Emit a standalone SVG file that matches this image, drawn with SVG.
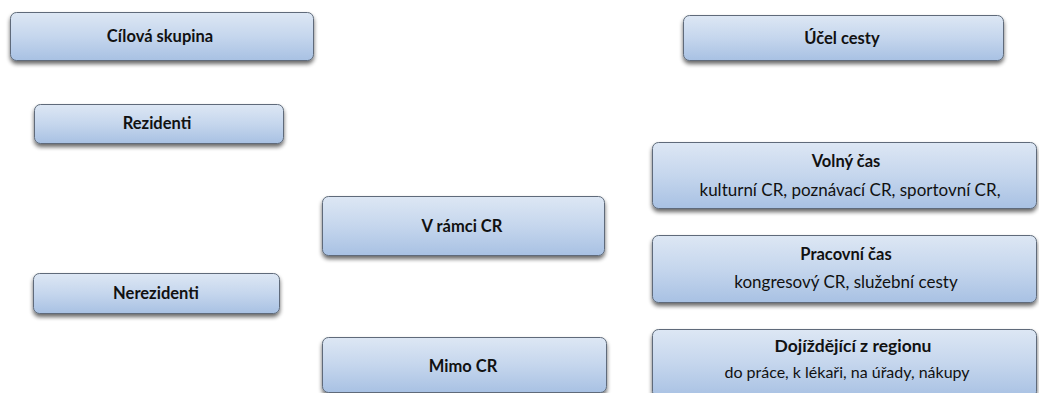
<svg xmlns="http://www.w3.org/2000/svg" width="1039" height="393" viewBox="0 0 1039 393">
<defs>
<linearGradient id="g" x1="0" y1="0" x2="0" y2="1">
<stop offset="0" stop-color="#dde7f4"/>
<stop offset="0.5" stop-color="#c5d6ed"/>
<stop offset="1" stop-color="#a8c1e3"/>
</linearGradient>
<filter id="sh" x="-5%" y="-20%" width="110%" height="160%">
<feGaussianBlur in="SourceAlpha" stdDeviation="2"/>
<feOffset dx="0" dy="3" result="b"/>
<feComponentTransfer><feFuncA type="linear" slope="0.6"/></feComponentTransfer>
<feMerge><feMergeNode/><feMergeNode in="SourceGraphic"/></feMerge>
</filter>
</defs>
<style>
.box{fill:url(#g);stroke:#5f6b7a;stroke-width:1;filter:url(#sh)}
.t{font-family:Lato,"Open Sans","Liberation Sans",sans-serif;font-weight:bold;font-size:16.5px;fill:#111111;text-anchor:middle}
.s{font-family:Lato,"Open Sans","Liberation Sans",sans-serif;font-size:17px;fill:#111111;text-anchor:middle}
</style>
<rect width="1039" height="393" fill="#ffffff"/>
<g id="cilova-skupina"><rect class="box" x="10.5" y="12.5" width="303" height="48" rx="6"/><text class="t" x="160" y="42">Cílová skupina</text></g>
<g id="ucel-cesty"><rect class="box" x="683.5" y="15.5" width="320" height="45" rx="6"/><text class="t" x="842" y="44">Účel cesty</text></g>
<g id="rezidenti"><rect class="box" x="34.5" y="104.5" width="249" height="39" rx="6"/><text class="t" x="157" y="129">Rezidenti</text></g>
<g id="nerezidenti"><rect class="box" x="33.5" y="273.5" width="246" height="40" rx="6"/><text class="t" x="156" y="299">Nerezidenti</text></g>
<g id="v-ramci-cr"><rect class="box" x="322.5" y="196.5" width="282" height="59" rx="6"/><text class="t" x="462" y="232">V rámci CR</text></g>
<g id="mimo-cr"><rect class="box" x="322.5" y="337.5" width="284" height="55" rx="6"/><text class="t" x="463" y="372">Mimo CR</text></g>
<g id="volny-cas"><rect class="box" x="652.5" y="142.5" width="384" height="66" rx="6"/><text class="t" x="846" y="167">Volný čas</text><text class="s" x="850" y="196">kulturní CR, poznávací CR, sportovní CR,</text></g>
<g id="pracovni-cas"><rect class="box" x="652.5" y="235.5" width="384" height="67" rx="6"/><text class="t" x="846" y="260">Pracovní čas</text><text class="s" x="846" y="288">kongresový CR, služební cesty</text></g>
<g id="dojizdejici"><rect class="box" x="652.5" y="329.5" width="384" height="68" rx="6"/><text class="t" x="853" y="352" style="font-size:17.5px">Dojíždějící z regionu</text><text class="s" x="847" y="378" style="font-size:16px">do práce, k lékaři, na úřady, nákupy</text></g>
<g id="connectors"></g>
</svg>
